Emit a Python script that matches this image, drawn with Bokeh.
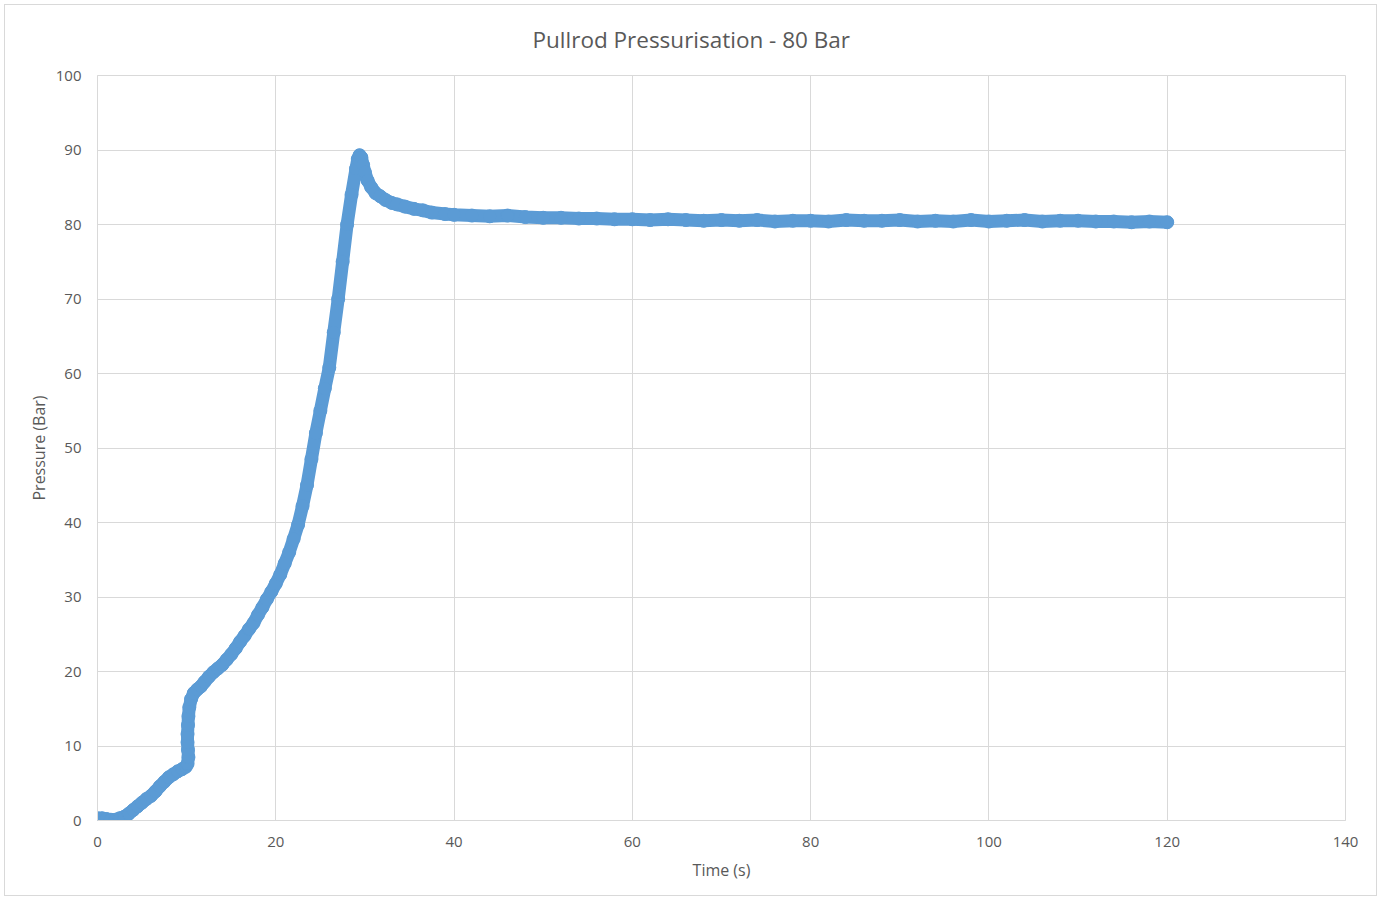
from bokeh.plotting import figure
from bokeh.models import Range1d, FixedTicker
from bokeh.embed import file_html
from bokeh.resources import INLINE

# ---- data ----
time_s = [0, 0.5, 1, 1.5, 2, 2.5, 3, 3.5, 4, 4.5, 5, 5.5, 6, 6.5, 7, 7.5, 8, 8.5,
          9, 9.5, 9.9, 10.1, 10.2, 10.15, 10.1, 10.1, 10.15, 10.2, 10.3, 10.5, 10.8,
          11.2, 11.6, 12, 12.5, 13, 13.5, 14, 14.5, 15, 15.5, 16, 16.5, 17, 17.5,
          18, 18.5, 19, 19.5, 20, 20.5, 21, 21.5, 22, 22.5, 23, 23.5, 24, 24.5, 25,
          25.5, 26, 26.5, 27, 27.5, 28, 28.5, 29, 29.2, 29.4, 29.6, 29.8, 30, 30.3,
          30.7, 31.2, 31.7, 32.3, 33, 33.6, 34.5, 35.5, 36.5, 37.5, 39, 40, 42, 44,
          46, 48, 50, 52, 54, 56, 58, 60, 62, 64, 66, 68, 70, 72, 74, 76, 78, 80,
          82, 84, 86, 88, 90, 92, 94, 96, 98, 100, 102, 104, 106, 108, 110, 112,
          114, 116, 118, 120]
pressure_bar = [0.3, 0.3, 0.2, 0.1, 0.1, 0.3, 0.5, 0.9, 1.4, 1.9, 2.4, 2.9, 3.3, 3.9,
                4.6, 5.2, 5.8, 6.2, 6.6, 6.9, 7.2, 7.6, 8.5, 9.5, 10.5, 11.6, 12.8,
                14.0, 15.2, 16.3, 17.1, 17.6, 18.0, 18.6, 19.3, 19.9, 20.4, 20.9,
                21.6, 22.3, 23.1, 24.0, 24.8, 25.7, 26.5, 27.6, 28.6, 29.7, 30.7,
                31.8, 33.0, 34.5, 36.0, 37.8, 39.7, 42.2, 45.0, 48.5, 52.0, 55.0,
                58.0, 60.8, 65.5, 70.0, 75.0, 80.0, 84.0, 87.5, 88.8, 89.3, 89.0,
                88.0, 87.0, 85.9, 85.0, 84.2, 83.8, 83.3, 82.9, 82.7, 82.4, 82.1,
                81.9, 81.6, 81.4, 81.3, 81.2, 81.1, 81.2, 81.0, 80.9, 80.9, 80.8,
                80.8, 80.7, 80.7, 80.6, 80.7, 80.6, 80.5, 80.6, 80.5, 80.6, 80.4,
                80.5, 80.5, 80.4, 80.6, 80.5, 80.5, 80.6, 80.4, 80.5, 80.4, 80.6,
                80.4, 80.5, 80.6, 80.4, 80.5, 80.5, 80.4, 80.4, 80.3, 80.4, 80.3]
x_ticks = [0, 20, 40, 60, 80, 100, 120, 140]
y_ticks = [0, 10, 20, 30, 40, 50, 60, 70, 80, 90, 100]
title_text = "Pullrod Pressurisation - 80 Bar"

TEXT = "#595959"
GRID = "#d9d9d9"
BLUE = "#5b9bd5"
FONT = "Open Sans"

p = figure(width=1373, height=892, output_backend="svg", toolbar_location=None,
           x_range=Range1d(0, 140), y_range=Range1d(0, 100),
           min_border_left=92, min_border_right=33, min_border_top=70,
           min_border_bottom=77)
p.styles = {"border": "1px solid #d9d9d9", "margin-left": "4px", "margin-top": "4px"}

p.title.text = title_text
p.title.text_font = FONT
p.title.text_font_size = "22.5px"
p.title.text_font_style = "normal"
p.title.text_color = TEXT
p.title.align = "left"
p.title.offset = 435
p.title.vertical_align = "top"
p.title.standoff = 37

p.outline_line_color = GRID
p.background_fill_color = "white"
p.border_fill_color = "white"

for ax in (p.xaxis, p.yaxis):
    ax.axis_line_color = GRID
    ax.major_tick_line_color = None
    ax.minor_tick_line_color = None
    ax.major_label_text_font = FONT
    ax.major_label_text_font_size = "15px"
    ax.major_label_text_color = TEXT
    ax.axis_label_text_font = FONT
    ax.axis_label_text_font_size = "16px"
    ax.axis_label_text_font_style = "normal"
    ax.axis_label_text_color = TEXT

p.xaxis.ticker = FixedTicker(ticks=x_ticks)
p.yaxis.ticker = FixedTicker(ticks=y_ticks)
p.xaxis.axis_label = "Time (s)"
p.yaxis.axis_label = "Pressure (Bar)"
p.xaxis.major_label_standoff = 10
p.yaxis.major_label_standoff = 10
p.xaxis.axis_label_standoff = 9
p.yaxis.axis_label_standoff = 3

p.xgrid.ticker = FixedTicker(ticks=x_ticks)
p.ygrid.ticker = FixedTicker(ticks=y_ticks)
p.xgrid.grid_line_color = GRID
p.ygrid.grid_line_color = GRID

p.line(time_s, pressure_bar, line_width=13, line_color=BLUE,
       line_join="round", line_cap="round")
p.scatter(time_s, pressure_bar, size=13, fill_color=BLUE, line_color=BLUE)

open("out.html", "w").write(file_html(p, INLINE))
